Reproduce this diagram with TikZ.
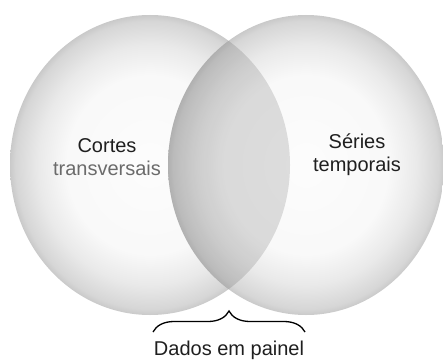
\documentclass[tikz,border=0pt]{standalone}
\usepackage{fontspec}
\setmainfont{Liberation Sans}
\usetikzlibrary{decorations.pathreplacing}
\pgfdeclareradialshading{sphere}{\pgfpoint{0bp}{0bp}}{color(0bp)=(white!98!gray); color(15bp)=(white!95!gray); color(20bp)=(gray!17); color(24bp)=(gray!32); color(25bp)=(gray!42); color(50bp)=(gray!42)}

\begin{document}
\begin{tikzpicture}[x=1pt,y=-1pt,
  lbl/.style={align=center,font=\fontsize{20}{23}\selectfont,text=black!88}]
\useasboundingbox (0,0) rectangle (443,361);
\shade[shading=sphere] (150,165) ellipse (140 and 150);
\shade[shading=sphere] (306,165) ellipse (138 and 150);
\begin{scope}
\clip (150,165) ellipse (140 and 150);
\fill[black,fill opacity=0.12] (306,165) ellipse (138 and 150);
\end{scope}
\node[lbl] (cortes) at (107,157) {Cortes\\\textcolor{black!58}{transversais}};
\node[lbl] (series) at (357,155) {Séries\\temporais};
\coordinate (bl) at (153,332);
\coordinate (br) at (305,332);
\draw[line width=1.3pt,decorate,decoration={brace,amplitude=21pt}] (bl) -- (br);
\node[lbl] (painel) at (229,350) {Dados em painel};
\end{tikzpicture}
\end{document}
